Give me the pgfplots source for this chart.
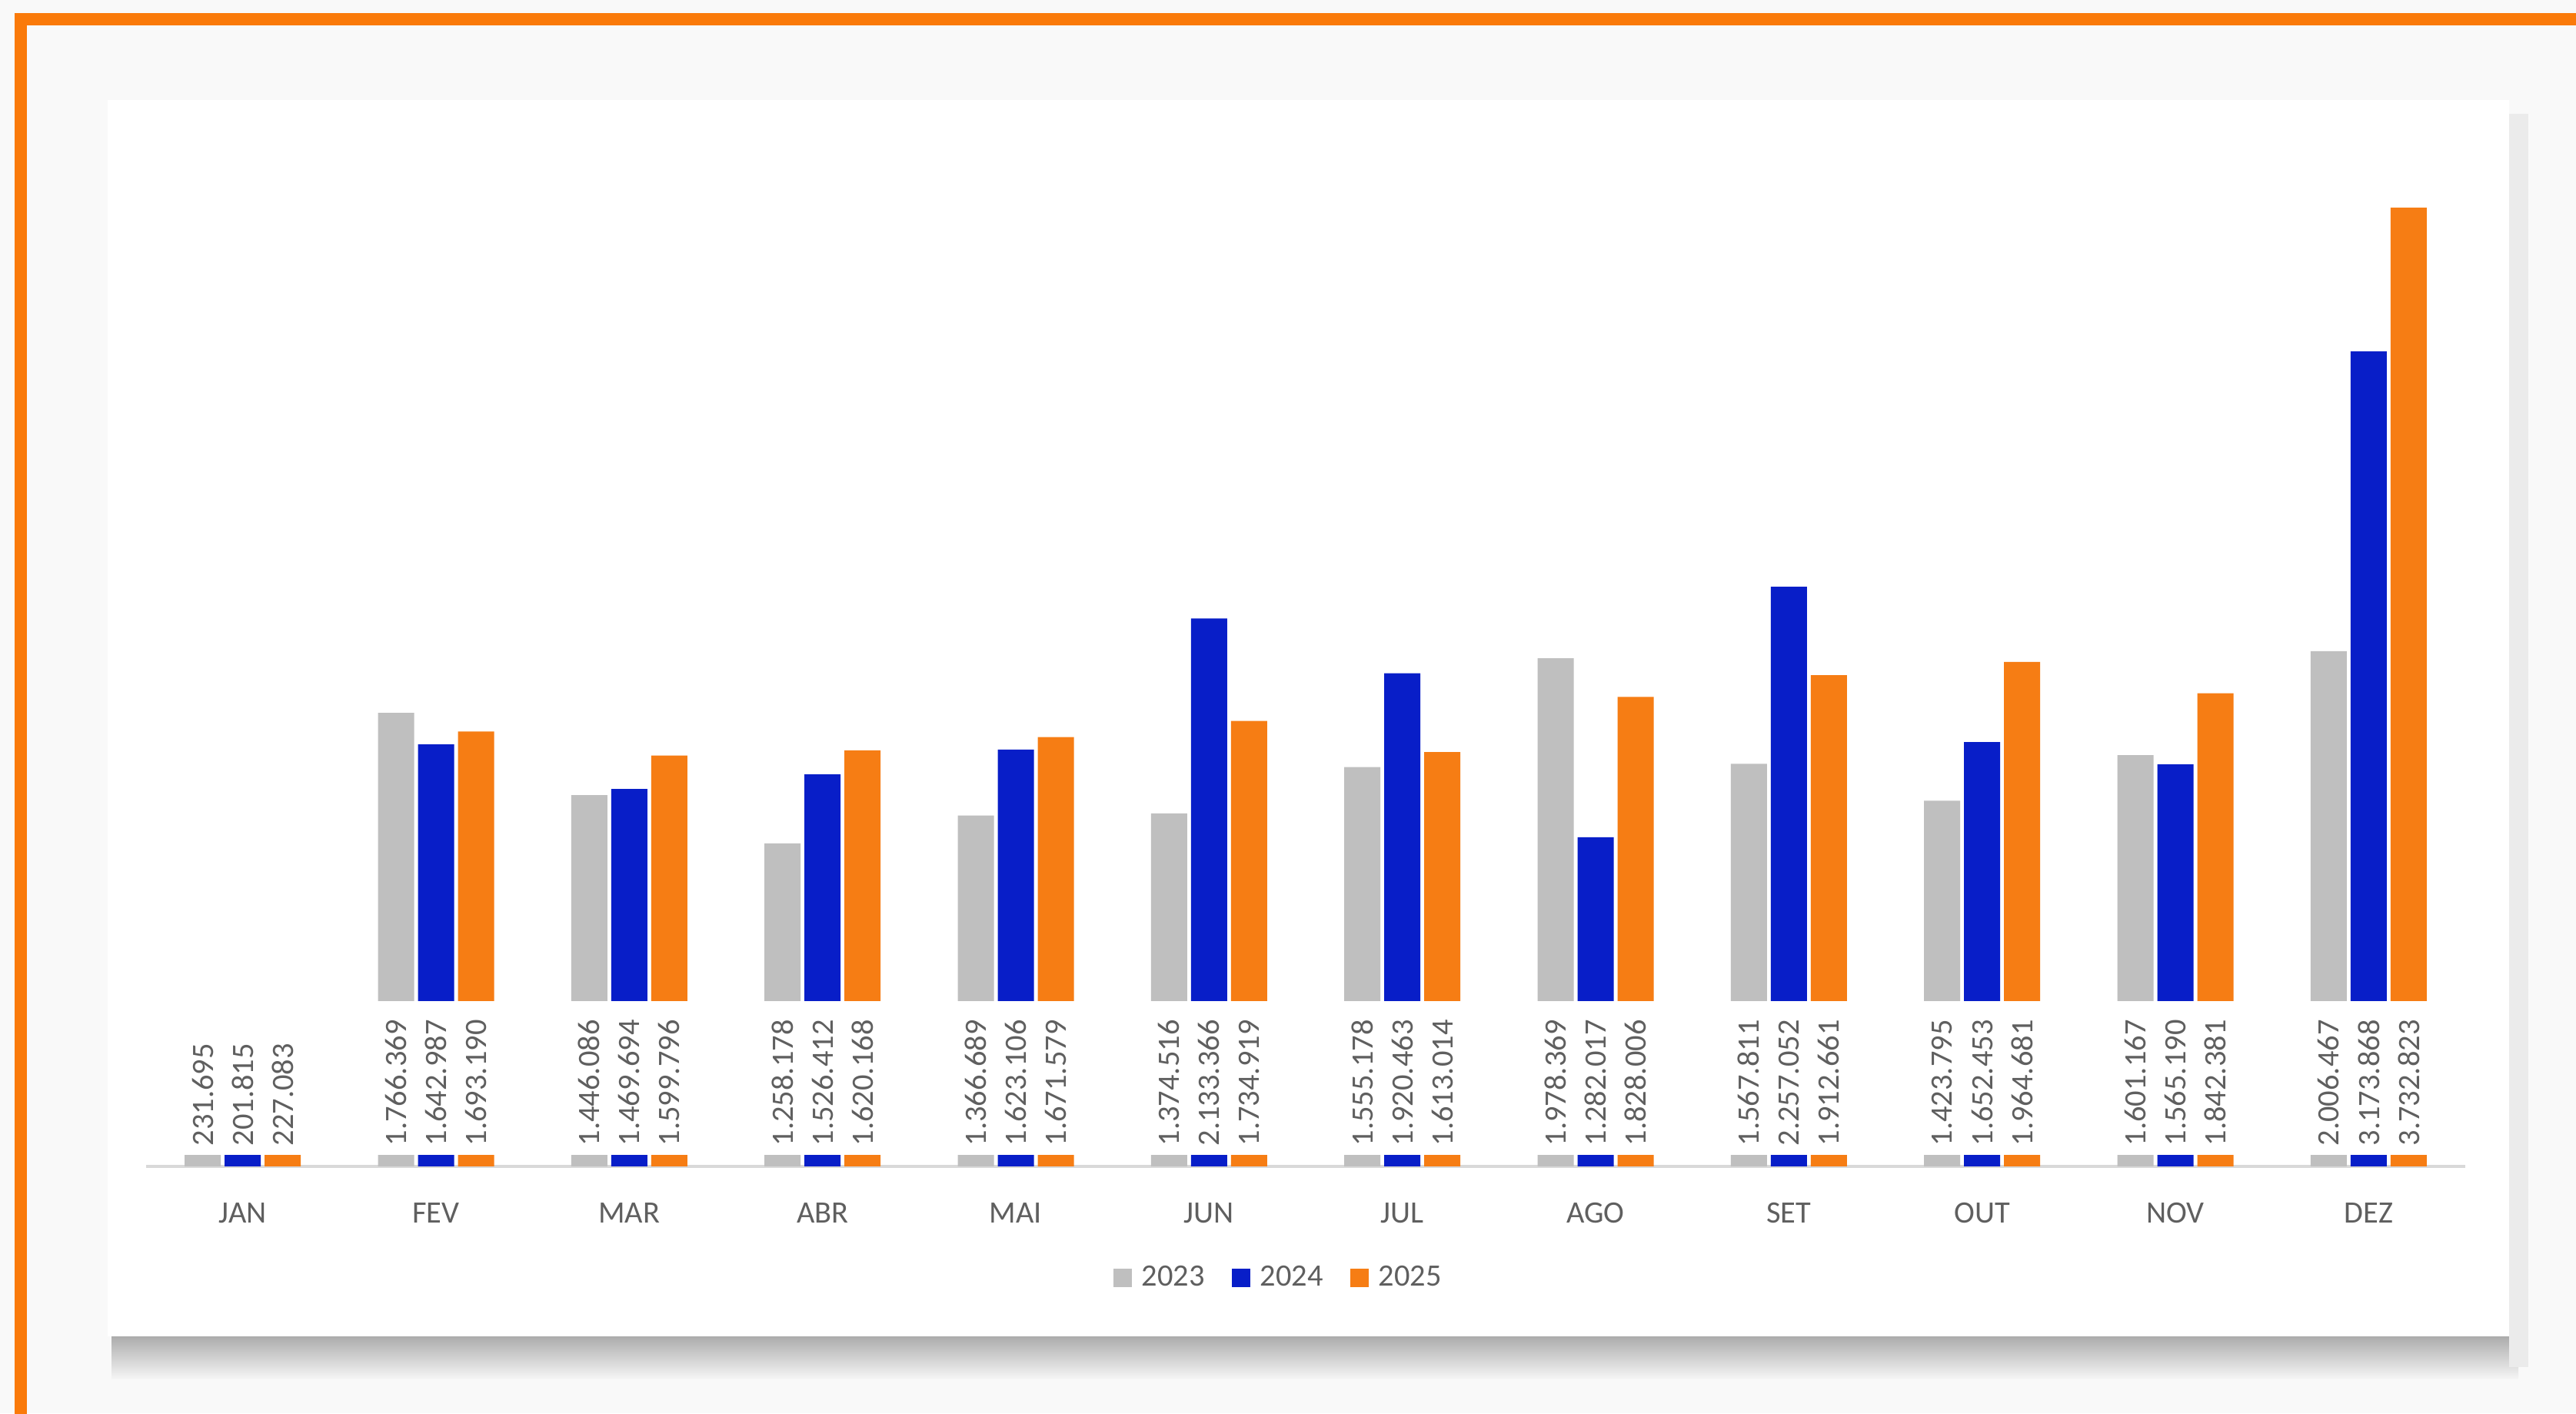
\documentclass[border=0pt]{standalone}
\usepackage{pgfplots}
\pgfplotsset{compat=1.18}
\usepackage{pgfplotstable}
\usepackage{fontspec}
\setmainfont{Carlito}
\definecolor{c23}{RGB}{191,191,191}
\definecolor{c24}{RGB}{8,30,200}
\definecolor{c25}{RGB}{246,125,20}
\definecolor{frameor}{RGB}{250,122,10}
\definecolor{txt}{RGB}{95,95,95}

\pgfplotstableread{
x a b c la lb lc
0 231695 201815 227083 231.695 201.815 227.083
1 1766369 1642987 1693190 1.766.369 1.642.987 1.693.190
2 1446086 1469694 1599796 1.446.086 1.469.694 1.599.796
3 1258178 1526412 1620168 1.258.178 1.526.412 1.620.168
4 1366689 1623106 1671579 1.366.689 1.623.106 1.671.579
5 1374516 2133366 1734919 1.374.516 2.133.366 1.734.919
6 1555178 1920463 1613014 1.555.178 1.920.463 1.613.014
7 1978369 1282017 1828006 1.978.369 1.282.017 1.828.006
8 1567811 2257052 1912661 1.567.811 2.257.052 1.912.661
9 1423795 1652453 1964681 1.423.795 1.652.453 1.964.681
10 1601167 1565190 1842381 1.601.167 1.565.190 1.842.381
11 2006467 3173868 3732823 2.006.467 3.173.868 3.732.823
}\data

\pgfplotsset{
  lbl/.style={forget plot, draw=none, fill=none,
    nodes near coords={\pgfplotspointmeta},
    point meta=explicit symbolic,
    nodes near coords style={yshift=0.14cm, rotate=90, anchor=west,
      fill=white, inner xsep=0.12cm, inner ysep=0pt,
      text width=1.76cm, align=left, minimum height=0.49cm,
      font=\fontsize{11.5}{13}\selectfont, text=txt}},
}

\begin{document}
\begin{tikzpicture}
\useasboundingbox (0,0) rectangle (33.5,18.38);
\begin{scope}
\clip (0,0) rectangle (33.5,18.38);
\fill[gray!5] (0,0) rectangle (33.5,18.38);
\draw[frameor, line width=0.16cm] (0.27,-1) -- (0.27,18.13) -- (34.5,18.13);
\shade[top color=gray!65, bottom color=gray!8] (1.45,0.45) rectangle (32.75,1.0);
\fill[gray!16] (32.63,0.6) rectangle (32.88,16.9);
\fill[white] (1.40,1.00) rectangle (32.63,17.08);
\end{scope}
\begin{axis}[
  at={(1.90cm,3.21cm)}, anchor=south west,
  scale only axis, width=30.16cm, height=13.36cm,
  xmin=-0.5, xmax=11.5, ymin=0, ymax=4000000,
  ybar, bar width=0.47cm,
  axis y line=none,
  axis x line*=bottom,
  x axis line style={-, draw=gray!30, line width=0.9pt},
  xtick={0,...,11},
  xticklabels={JAN,FEV,MAR,ABR,MAI,JUN,JUL,AGO,SET,OUT,NOV,DEZ},
  xtick style={draw=none},
  xticklabel style={font=\fontsize{11.5}{13}\selectfont, text=txt, yshift=-0.2cm},
  legend style={at={(0.489,0)}, anchor=center, yshift=-1.45cm, draw=none, fill=none,
    legend columns=-1, font=\fontsize{11.5}{13}\selectfont, text=txt,
    /tikz/every odd column/.append style={column sep=0.06cm},
    /tikz/every even column/.append style={column sep=0.28cm}},
  legend image code/.code={\fill[#1] (0cm,-0.12cm) rectangle (0.24cm,0.12cm);},
  clip=false,
]
\addplot[fill=c23, draw=none, bar shift=-0.52cm] table[x=x,y=a]{\data};
\addlegendentry{2023}
\addplot[fill=c24, draw=none, bar shift=0cm] table[x=x,y=b]{\data};
\addlegendentry{2024}
\addplot[fill=c25, draw=none, bar shift=0.52cm] table[x=x,y=c]{\data};
\addlegendentry{2025}
\addplot[lbl, bar shift=-0.52cm] table[x=x, y expr=0, meta=la]{\data};
\addplot[lbl, bar shift=0cm] table[x=x, y expr=0, meta=lb]{\data};
\addplot[lbl, bar shift=0.52cm] table[x=x, y expr=0, meta=lc]{\data};
\end{axis}
\end{tikzpicture}
\end{document}
